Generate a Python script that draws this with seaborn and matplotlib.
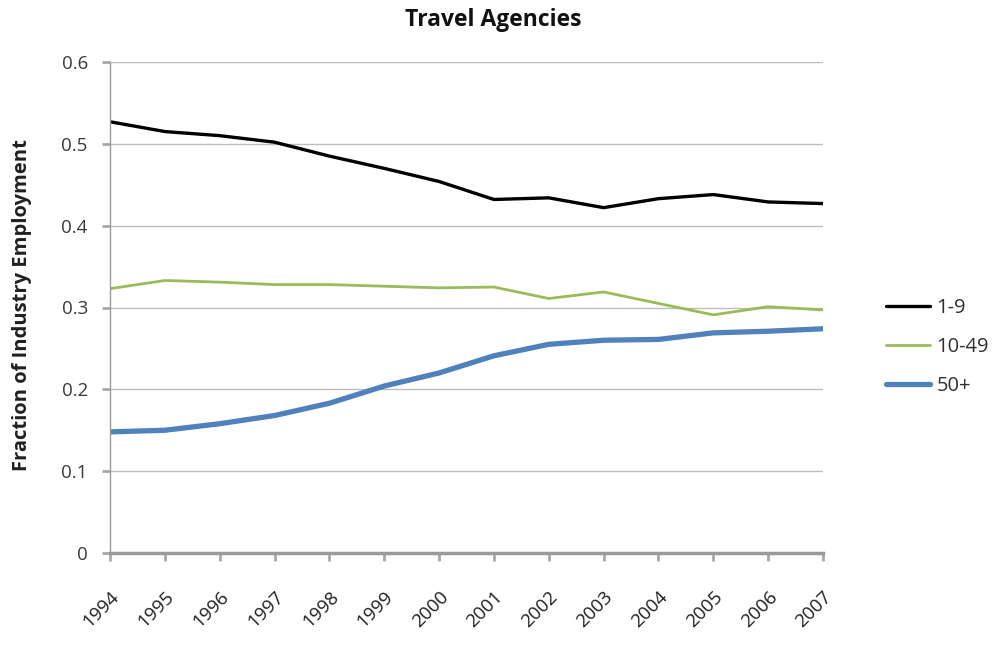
import matplotlib
matplotlib.use("Agg")
import matplotlib.pyplot as plt
import seaborn as sns
import pandas as pd

# Employment share by establishment size class, travel agencies
years = [1994, 1995, 1996, 1997, 1998, 1999, 2000,
         2001, 2002, 2003, 2004, 2005, 2006, 2007]
size_1_9 = [0.527, 0.515, 0.510, 0.502, 0.485, 0.470, 0.454,
            0.432, 0.434, 0.422, 0.433, 0.438, 0.429, 0.427]
size_10_49 = [0.323, 0.333, 0.331, 0.328, 0.328, 0.326, 0.324,
              0.325, 0.311, 0.319, 0.305, 0.291, 0.301, 0.297]
size_50_plus = [0.148, 0.150, 0.158, 0.168, 0.183, 0.204, 0.220,
                0.241, 0.255, 0.260, 0.261, 0.269, 0.271, 0.274]
series_names = ["1-9", "10-49", "50+"]
y_ticks = [0, 0.1, 0.2, 0.3, 0.4, 0.5, 0.6]
y_tick_labels = ["0", "0.1", "0.2", "0.3", "0.4", "0.5", "0.6"]

df = pd.DataFrame({
    "year": years * 3,
    "share": size_1_9 + size_10_49 + size_50_plus,
    "size": [series_names[0]] * len(years) + [series_names[1]] * len(years)
            + [series_names[2]] * len(years),
})

sns.set_theme(style="white")
plt.rcParams["font.family"] = ["Open Sans", "DejaVu Sans"]

colors = {"1-9": "#000000", "10-49": "#9BBB59", "50+": "#4F81BD"}
widths = {"1-9": 2.4, "10-49": 2.0, "50+": 3.8}

fig = plt.figure(figsize=(9.97, 6.47), dpi=100)
ax = fig.add_axes([110 / 997, 1 - 553 / 647, (823 - 110) / 997, (553 - 62) / 647])

for name in series_names:
    sub = df[df["size"] == name]
    sns.lineplot(data=sub, x="year", y="share", ax=ax, color=colors[name],
                 linewidth=widths[name], label=name, legend=False)

ax.set_xlim(years[0], years[-1])
ax.set_ylim(0, 0.6)
ax.set_yticks(y_ticks)
ax.set_yticklabels(y_tick_labels)
ax.set_xticks(years)
ax.set_xticklabels([str(y) for y in years], rotation=45, ha="right",
                   va="top", rotation_mode="anchor")

ax.grid(axis="y", color="#BDBDBD", linewidth=1.0)
ax.set_axisbelow(True)
for side in ["top", "right"]:
    ax.spines[side].set_visible(False)
ax.spines["left"].set_color("#9A9A9A")
ax.spines["left"].set_linewidth(1.0)
ax.spines["bottom"].set_color("#9A9A9A")
ax.spines["bottom"].set_linewidth(2.5)

ax.tick_params(axis="y", which="major", direction="out", length=6, width=2,
               color="#A8A8A8", labelsize=13.5, labelcolor="#3A3A3A", pad=10,
               left=True)
ax.tick_params(axis="x", which="major", direction="out", length=6, width=2,
               color="#A8A8A8", labelsize=13.5, labelcolor="#202020", pad=19,
               bottom=True)

ax.set_xlabel("")
ax.set_ylabel("")
fig.text(22 / 997, 1 - 305 / 647, "Fraction of Industry Employment",
         rotation=90, ha="center", va="center", fontsize=14.5,
         fontweight="bold", color="#202020")

fig.text(493 / 997, 1 - 20 / 647, "Travel Agencies", ha="center", va="center",
         fontsize=16.5, fontweight="bold", color="#111111")

handles, labels = ax.get_legend_handles_labels()
fig.legend(handles, labels, loc="upper left",
           bbox_to_anchor=(868 / 997, 1 - 280 / 647), frameon=False,
           fontsize=14.5, handlelength=2.2, handletextpad=0.3,
           labelspacing=0.95, labelcolor="#303030")

fig.savefig("out.png", dpi=100)
